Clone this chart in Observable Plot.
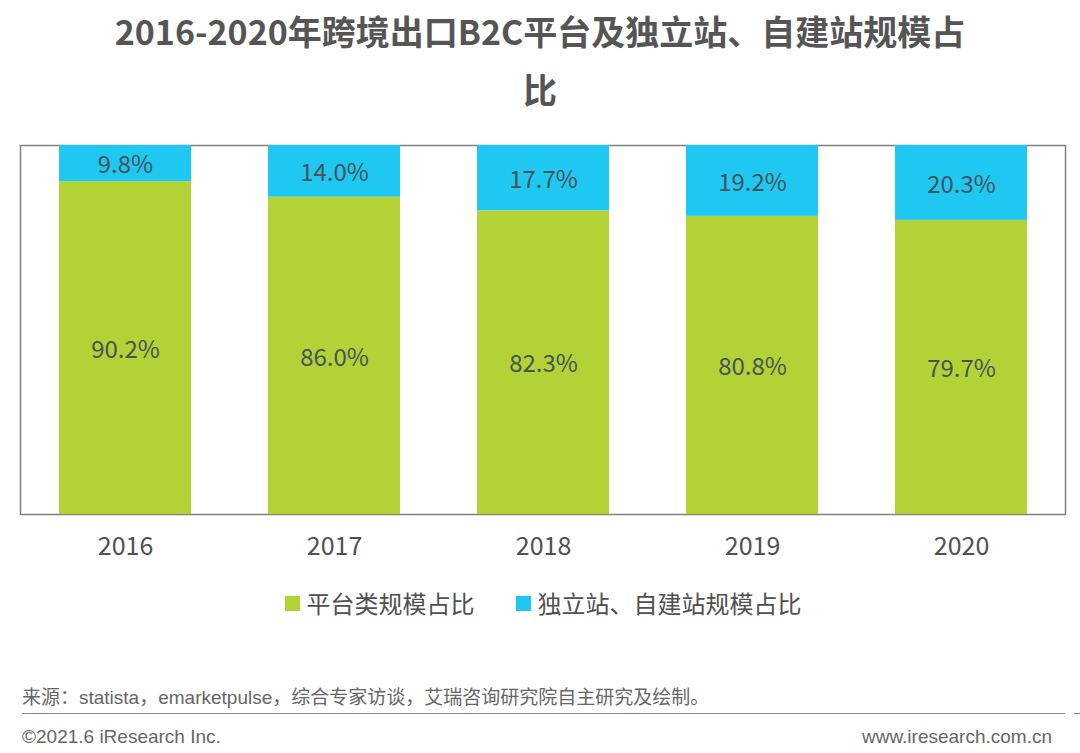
<!DOCTYPE html>
<html>
<head>
<meta charset="utf-8">
<script src="https://cdn.jsdelivr.net/npm/d3@7"></script>
<script src="https://cdn.jsdelivr.net/npm/@observablehq/plot@0.6"></script>
<style>
  html, body { margin: 0; padding: 0; background: #fff; }
  body { width: 1080px; height: 753px; position: relative; overflow: hidden; font-family: "Noto Sans CJK SC", "Noto Sans", sans-serif; }
  #title { position: absolute; left: 0; top: 0; width: 1080px; text-align: center; font-weight: bold; font-size: 34px; line-height: 58px; color: #555; padding-top: 2px; }
  #chart { position: absolute; left: 0; top: 130px; }
  #legend { position: absolute; left: 0; top: 585px; width: 1080px; display: flex; justify-content: center; gap: 41px; font-size: 24px; line-height: 36px; color: #505050; padding-left: 6px; box-sizing: border-box; }
  #legend .item { display: flex; align-items: center; }
  #legend .sw { width: 15px; height: 15px; margin-right: 7px; }
  #source { position: absolute; left: 22px; top: 685px; font-family: "Liberation Sans", "Noto Sans CJK SC", sans-serif; font-size: 19px; line-height: 26px; color: #666; }
  #rule { position: absolute; left: 22px; top: 713px; width: 1043px; height: 0; border-top: 1.5px solid #8a8a8a; }
  #rule2 { position: absolute; left: 1074px; top: 713px; width: 10px; height: 0; border-top: 1.5px solid #8a8a8a; }
  #copy { position: absolute; left: 22px; top: 724px; font-family: "Liberation Sans", sans-serif; font-size: 19px; line-height: 26px; color: #666; }
  #url { position: absolute; right: 28px; top: 724px; font-family: "Liberation Sans", sans-serif; font-size: 19px; line-height: 26px; color: #666; }
</style>
</head>
<body>
<div id="title">2016-2020年跨境出口B2C平台及独立站、自建站规模占<br>比</div>
<div id="chart"></div>
<div id="legend"></div>
<div id="source">来源：statista，emarketpulse，综合专家访谈，艾瑞咨询研究院自主研究及绘制。</div>
<div id="rule"></div><div id="rule2"></div>
<div id="copy">©2021.6 iResearch Inc.</div>
<div id="url">www.iresearch.com.cn</div>
<script>
const years = ["2016", "2017", "2018", "2019", "2020"];
const seriesNames = ["平台类规模占比", "独立站、自建站规模占比"];
const platformShare = [90.2, 86.0, 82.3, 80.8, 79.7];
const independentShare = [9.8, 14.0, 17.7, 19.2, 20.3];
const seriesColors = ["#b2d235", "#1ec8f1"];

const data = [];
years.forEach((y, i) => data.push({year: y, series: seriesNames[0], value: platformShare[i]}));
years.forEach((y, i) => data.push({year: y, series: seriesNames[1], value: independentShare[i]}));

const chart = Plot.plot({
  width: 1080,
  height: 434,
  marginTop: 15,
  marginBottom: 50,
  marginLeft: 20,
  marginRight: 15,
  style: {fontFamily: "'Noto Sans CJK SC', 'Noto Sans', sans-serif", color: "#505050", background: "transparent"},
  x: {domain: years, paddingInner: 0.37, paddingOuter: 0.185, label: null},
  y: {domain: [0, 100], axis: null},
  color: {domain: seriesNames, range: seriesColors},
  marks: [
    Plot.frame({stroke: "#808080", strokeWidth: 1.5}),
    Plot.barY(data, Plot.stackY({x: "year", y: "value", z: "series", fill: "series", order: null})),
    Plot.text(data, Plot.stackY({x: "year", y: "value", z: "series", order: null,
      text: d => d.value.toFixed(1) + "%", fill: "#47525a", fontSize: 24, dy: 2})),
    Plot.axisX({tickSize: 0, tickPadding: 23, fontSize: 25, label: null, fill: "#505050"})
  ]
});
document.getElementById("chart").appendChild(chart);

const legend = document.getElementById("legend");
seriesNames.forEach((name, i) => {
  const item = document.createElement("div");
  item.className = "item";
  const sw = document.createElement("span");
  sw.className = "sw";
  sw.style.background = seriesColors[i];
  const label = document.createElement("span");
  label.textContent = name;
  item.appendChild(sw);
  item.appendChild(label);
  legend.appendChild(item);
});
</script>
</body>
</html>
